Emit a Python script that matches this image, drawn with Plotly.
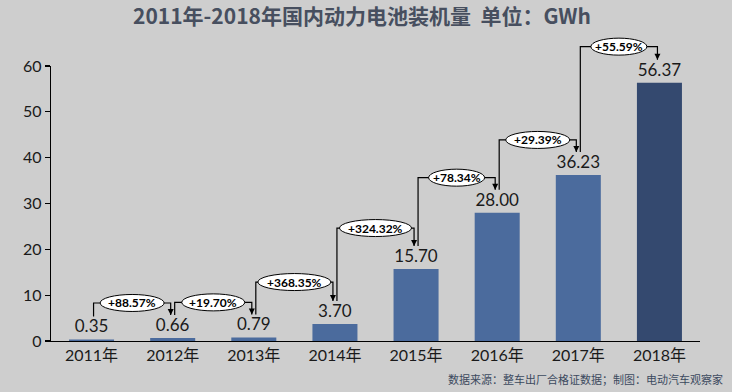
import plotly.graph_objects as go

# ---- data ----
years = ["2011年", "2012年", "2013年", "2014年", "2015年", "2016年", "2017年", "2018年"]
capacity_gwh = [0.35, 0.66, 0.79, 3.70, 15.70, 28.00, 36.23, 56.37]
growth_labels = ["+88.57%", "+19.70%", "+368.35%", "+324.32%", "+78.34%", "+29.39%", "+55.59%"]
y_ticks = [0, 10, 20, 30, 40, 50, 60]

title_text = "2011年-2018年国内动力电池装机量  单位：GWh"
source_text = "数据来源：整车出厂合格证数据；制图：电动汽车观察家"

# ---- styling / layout constants ----
W, H = 732, 392
ML, MR, MT, MB = 51, 32, 66, 51
PW, PH = W - ML - MR, H - MT - MB
YMAX = 60
N = len(years)
BG = "#cecece"
BAR = "#4b6b9d"
BAR_LAST = "#34496f"
NUM_FONT = "Lato, 'Noto Sans CJK SC', sans-serif"
CJK_FONT = "'Noto Sans CJK SC', sans-serif"

ELL_W = [64, 63, 73, 72, 56, 64, 56]   # ellipse widths (px)
ELL_H = 17
RISE = [35, 35, 42, 41, 35, 35, 36]    # connector rise above taller bar (px)
GAP = 23                               # connector end gap above bar top (px)


def xp(i, dpx=0.0):
    return (i + 0.5) / N + dpx / PW


def yp(v, dpx=0.0):
    return v / YMAX + dpx / PH


colors = [BAR] * (N - 1) + [BAR_LAST]

fig = go.Figure(
    go.Bar(
        x=list(range(N)),
        y=capacity_gwh,
        marker=dict(color=colors, line=dict(width=0)),
        texttemplate="%{y:.2f}",
        textposition="outside",
        textfont=dict(family=NUM_FONT, size=17, color="#1a1a1a"),
        cliponaxis=False,
        hoverinfo="skip",
    )
)

shapes = []
annotations = []
for k, lab in enumerate(growth_labels):
    a, b = capacity_gwh[k], capacity_gwh[k + 1]
    x0 = xp(k, 2)
    x1 = xp(k + 1, -2)
    y0 = yp(a, GAP)
    y1 = yp(b, GAP)
    top = yp(max(a, b), RISE[k])
    shapes.append(dict(
        type="path", xref="paper", yref="paper",
        path=f"M {x0},{y0} L {x0},{top} L {x1},{top} L {x1},{y1}",
        line=dict(color="black", width=1.2),
    ))
    cx = (xp(k) + xp(k + 1)) / 2
    shapes.append(dict(
        type="circle", xref="paper", yref="paper",
        xsizemode="pixel", ysizemode="pixel",
        xanchor=cx, yanchor=top,
        x0=-ELL_W[k] / 2, x1=ELL_W[k] / 2, y0=-ELL_H / 2, y1=ELL_H / 2,
        fillcolor="white", line=dict(color="black", width=1),
    ))
    annotations.append(dict(
        xref="paper", yref="paper", x=cx, y=top, text=f"<b>{lab}</b>",
        showarrow=False, xanchor="center", yanchor="middle",
        font=dict(family=NUM_FONT, size=12, color="black"),
    ))
    annotations.append(dict(
        xref="paper", yref="paper", x=x1, y=y1, text="",
        showarrow=True, ax=0, ay=-7, arrowhead=2, arrowsize=1,
        arrowwidth=1.2, arrowcolor="black", standoff=0,
    ))

annotations.append(dict(
    xref="paper", yref="paper", x=(725 - ML) / PW, y=-(379 - (MT + PH)) / PH,
    text=source_text, showarrow=False, xanchor="right", yanchor="middle",
    font=dict(family=CJK_FONT, size=11, color="#3c4a5e"),
))

fig.update_layout(
    width=W, height=H,
    margin=dict(l=ML, r=MR, t=MT, b=MB),
    paper_bgcolor=BG, plot_bgcolor=BG,
    showlegend=False,
    bargap=0.445,
    title=dict(
        text=f"<b>{title_text}</b>", x=362 / W, xanchor="center",
        y=1 - 17 / H, yanchor="middle", yref="container",
        font=dict(family=CJK_FONT, size=21, color="#474f5f"),
    ),
    xaxis=dict(
        tickmode="array", tickvals=list(range(N)), ticktext=years,
        range=[-0.5, N - 0.5], showgrid=False, zeroline=False,
        showline=True, linecolor="black", linewidth=1.2, ticks="",
        tickfont=dict(family=NUM_FONT, size=16, color="#1a1a1a"),
    ),
    yaxis=dict(
        range=[0, YMAX], tickvals=y_ticks, showgrid=False, zeroline=False,
        showline=True, linecolor="black", linewidth=1.2,
        ticks="outside", ticklen=5, tickcolor="black", tickwidth=1.2,
        tickfont=dict(family=NUM_FONT, size=16, color="#1a1a1a"),
    ),
    shapes=shapes,
    annotations=annotations,
)

fig.write_html(
    "out.html",
    config={"displayModeBar": False, "staticPlot": True},
    post_script="document.body.style.margin='0';document.body.style.background='" + BG + "';",
)
